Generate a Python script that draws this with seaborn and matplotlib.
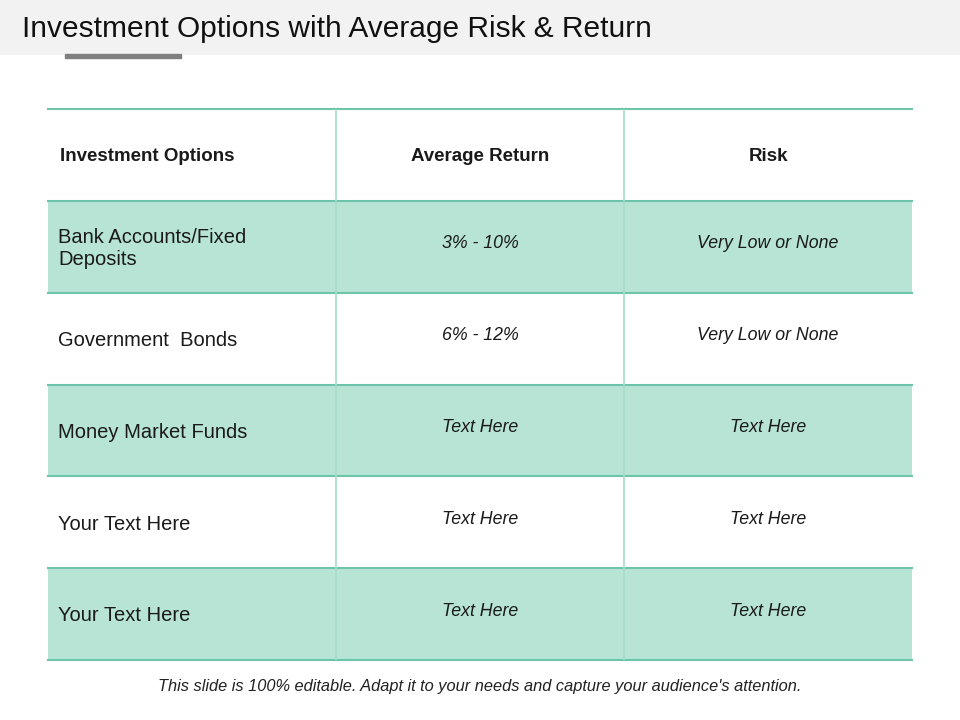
import matplotlib
matplotlib.use("Agg")
import matplotlib.pyplot as plt
import seaborn as sns
import numpy as np
from matplotlib.colors import ListedColormap

plt.rcParams["font.family"] = "Liberation Sans"

title = "Investment Options with Average Risk & Return"
headers = ["Investment Options", "Average Return", "Risk"]
options = ["Bank Accounts/Fixed\nDeposits", "Government  Bonds", "Money Market Funds", "Your Text Here", "Your Text Here"]
returns = ["3% - 10%", "6% - 12%", "Text Here", "Text Here", "Text Here"]
risks = ["Very Low or None", "Very Low or None", "Text Here", "Text Here", "Text Here"]
footer = "This slide is 100% editable. Adapt it to your needs and capture your audience's attention."

W, H = 960, 720
fig = plt.figure(figsize=(9.6, 7.2), dpi=100)
fig.patch.set_facecolor("white")

bar = fig.add_axes([0, 1 - 55 / H, 1, 55 / H]); bar.axis("off")
bar.add_patch(plt.Rectangle((0, 0), 1, 1, color="#f2f2f2", transform=bar.transAxes))
fig.text(22 / W, 1 - 29 / H, title, fontsize=21.5, va="center", ha="left", color="#111111")
fig.add_artist(plt.Rectangle((65 / W, 1 - 58 / H), 116 / W, 4 / H, color="#7f7f7f", transform=fig.transFigure))

ax = fig.add_axes([48 / W, 1 - 660 / H, 864 / W, 551 / H])
fill = np.array([[0] * 3] + [[(i + 1) % 2] * 3 for i in range(len(options))])
sns.heatmap(fill, ax=ax, cmap=ListedColormap(["white", "#b8e4d6"]), cbar=False,
            xticklabels=False, yticklabels=False, vmin=0, vmax=1)
line = "#6cc5a8"
for y in range(fill.shape[0] + 1):
    ax.axhline(y, color=line, lw=1.5, clip_on=False)
for x in [1, 2]:
    ax.axvline(x, color="#a8dcc9", lw=1.2)

ax.text(0.04, 0.52, headers[0], fontsize=13.5, fontweight="bold", va="center", ha="left", color="#1a1a1a")
ax.text(1.5, 0.52, headers[1], fontsize=13.5, fontweight="bold", va="center", ha="center", color="#1a1a1a")
ax.text(2.5, 0.52, headers[2], fontsize=13.5, fontweight="bold", va="center", ha="center", color="#1a1a1a")
for i, (o, r, k) in enumerate(zip(options, returns, risks)):
    y = i + 1.52
    ax.text(0.035, y, o, fontsize=14.5, va="center", ha="left", color="#1a1a1a", linespacing=1.2)
    ax.text(1.5, y - 0.05, r, fontsize=12.8, style="italic", va="center", ha="center", color="#1a1a1a")
    ax.text(2.5, y - 0.05, k, fontsize=12.8, style="italic", va="center", ha="center", color="#1a1a1a")

fig.text(0.5, 1 - 686 / H, footer, fontsize=11.8, style="italic", ha="center", va="center", color="#222222")
fig.savefig("out.png", dpi=100)
